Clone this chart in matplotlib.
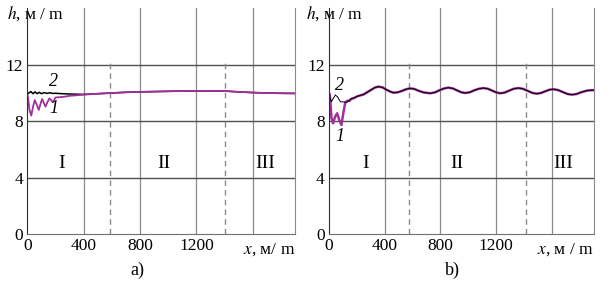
import numpy as np
import matplotlib.pyplot as plt

plt.rcParams['font.family'] = ['Liberation Serif', 'DejaVu Serif']
plt.rcParams['mathtext.fontset'] = 'stix'
plt.rcParams['font.size'] = 12.5

# panel a) curve 1 (purple) and curve 2 (black)
a_x1 = [0, 6, 15, 28, 40, 53, 66, 81, 93, 105, 117, 129, 143, 157, 169, 181, 200, 250, 300, 400, 500,
        600, 700, 800, 1000, 1200, 1400, 1500, 1600, 1700, 1800, 1900]
a_h1 = [9.9, 9.6, 8.8, 8.4, 9.0, 9.5, 9.2, 8.8, 9.2, 9.57, 9.3, 9.03, 9.35, 9.62, 9.5, 9.34, 9.68, 9.72,
        9.8, 9.88, 9.95, 10.0, 10.05, 10.08, 10.12, 10.15, 10.14, 10.08, 10.03, 10.0, 9.98, 9.97]
a_x2 = [0, 10, 25, 40, 55, 70, 85, 100, 120, 140, 160, 180, 200, 250, 300, 400, 500,
        600, 700, 800, 1000, 1200, 1400, 1500, 1600, 1700, 1800, 1900]
a_h2 = [9.9, 10.0, 10.1, 9.95, 10.08, 9.95, 10.05, 9.95, 10.03, 9.97, 10.02, 9.97, 9.98, 9.95,
        9.93, 9.9, 9.95, 10.0, 10.05, 10.08, 10.12, 10.15, 10.14, 10.08, 10.03, 10.0, 9.98, 9.97]

# panel b) start of the curves, then the common wavy tail
b_x1_start = [0, 8, 20, 31, 45, 60, 75, 91, 105, 119, 135, 150, 162, 180]
b_h1_start = [10.0, 9.9, 8.2, 7.85, 8.3, 8.56, 8.1, 7.73, 8.6, 9.34, 9.45, 9.45, 9.6, 9.62]
b_x2_start = [0, 8, 19, 32, 48, 65, 83, 110, 131, 155, 179]
b_h2_start = [10.0, 9.7, 9.38, 9.6, 9.86, 9.7, 9.38, 9.36, 9.34, 9.55, 9.66]
b_x_tail = [200, 250, 300, 330, 355, 385, 410, 440, 465, 495, 525, 555, 583, 615, 645, 680, 726,
            760, 790, 825, 857, 890, 920, 950, 977, 1010, 1045, 1075, 1108, 1140, 1170, 1200,
            1228, 1260, 1295, 1325, 1359, 1390, 1425, 1460, 1491, 1520, 1550, 1580, 1610, 1645,
            1680, 1710, 1742, 1775, 1810, 1850, 1880, 1900]
b_h_tail = [9.75, 9.9, 10.2, 10.38, 10.45, 10.4, 10.25, 10.1, 10.02, 10.05, 10.15, 10.27, 10.33,
            10.28, 10.15, 10.04, 9.98, 10.04, 10.18, 10.32, 10.38, 10.32, 10.18, 10.05, 10.0,
            10.05, 10.2, 10.3, 10.35, 10.3, 10.17, 10.04, 9.98, 10.03, 10.18, 10.3, 10.35, 10.3,
            10.15, 10.0, 9.95, 10.0, 10.12, 10.23, 10.27, 10.2, 10.05, 9.93, 9.88, 9.93, 10.06,
            10.17, 10.2, 10.2]

zones = ['I', 'II', 'III']
xticks = [0, 400, 800, 1200]
yticks = [0, 4, 8, 12]

purple = '#a0309c'

fig = plt.figure(figsize=(6.15, 2.85), dpi=100)
ax_a = fig.add_axes([0.0444, 0.179, 0.4353, 0.7915])
ax_b = fig.add_axes([0.5345, 0.179, 0.4314, 0.7915])


def setup(ax, dash_x, zone_x, xlab, hx, lab1, lab2):
    ax.set_xlim(0, 1900)
    ax.set_ylim(0, 16)
    for x in [400, 800, 1200, 1600]:
        ax.axvline(x, color='#8a8a8a', lw=0.9, zorder=0)
    for y in [4, 8, 12]:
        ax.axhline(y, color='#505050', lw=1.0, zorder=0)
    for x in dash_x:
        ax.plot([x, x], [0, 12.2], color='#8a8a8a', lw=1.0, ls=(0, (4, 3)), zorder=0)
    ax.spines['top'].set_visible(False)
    ax.spines['right'].set_color('#8a8a8a')
    ax.spines['bottom'].set_color('#707070')
    ax.spines['left'].set_color('#303030')
    ax.set_xticks(xticks)
    ax.set_yticks(yticks)
    ax.tick_params(length=0, pad=3)
    for zx, z in zip(zone_x, zones):
        ax.text(zx, 5.0, z, ha='center', va='center', fontsize=14)
    ax.text(1900, -0.55, xlab, ha='right', va='top')
    ax.text(hx, 15.6, '$h$, м / m', ha='left', va='center', clip_on=False)
    ax.text(lab2[0], lab2[1], '2', style='italic', ha='center', va='center', fontsize=13)
    ax.text(lab1[0], lab1[1], '1', style='italic', ha='center', va='center', fontsize=13)


setup(ax_a, [590, 1400], [240, 970, 1685], '$x$, м/ m', -145, (185, 8.9), (185, 10.8))
ax_a.plot(a_x2, a_h2, color='black', lw=1.1)
ax_a.plot(a_x1, a_h1, color=purple, lw=1.3)

setup(ax_b, [578, 1410], [267, 917, 1680], '$x$, м / m', -165, (80, 6.9), (80, 10.5))
ax_b.plot(b_x1_start + b_x_tail, b_h1_start + b_h_tail, color=purple, lw=1.8)
ax_b.plot(b_x2_start + b_x_tail, b_h2_start + b_h_tail, color='black', lw=0.7)

fig.text(0.224, 0.05, 'a)', ha='center', va='center', fontsize=13)
fig.text(0.735, 0.05, 'b)', ha='center', va='center', fontsize=13)

fig.savefig('out.png', dpi=100)
